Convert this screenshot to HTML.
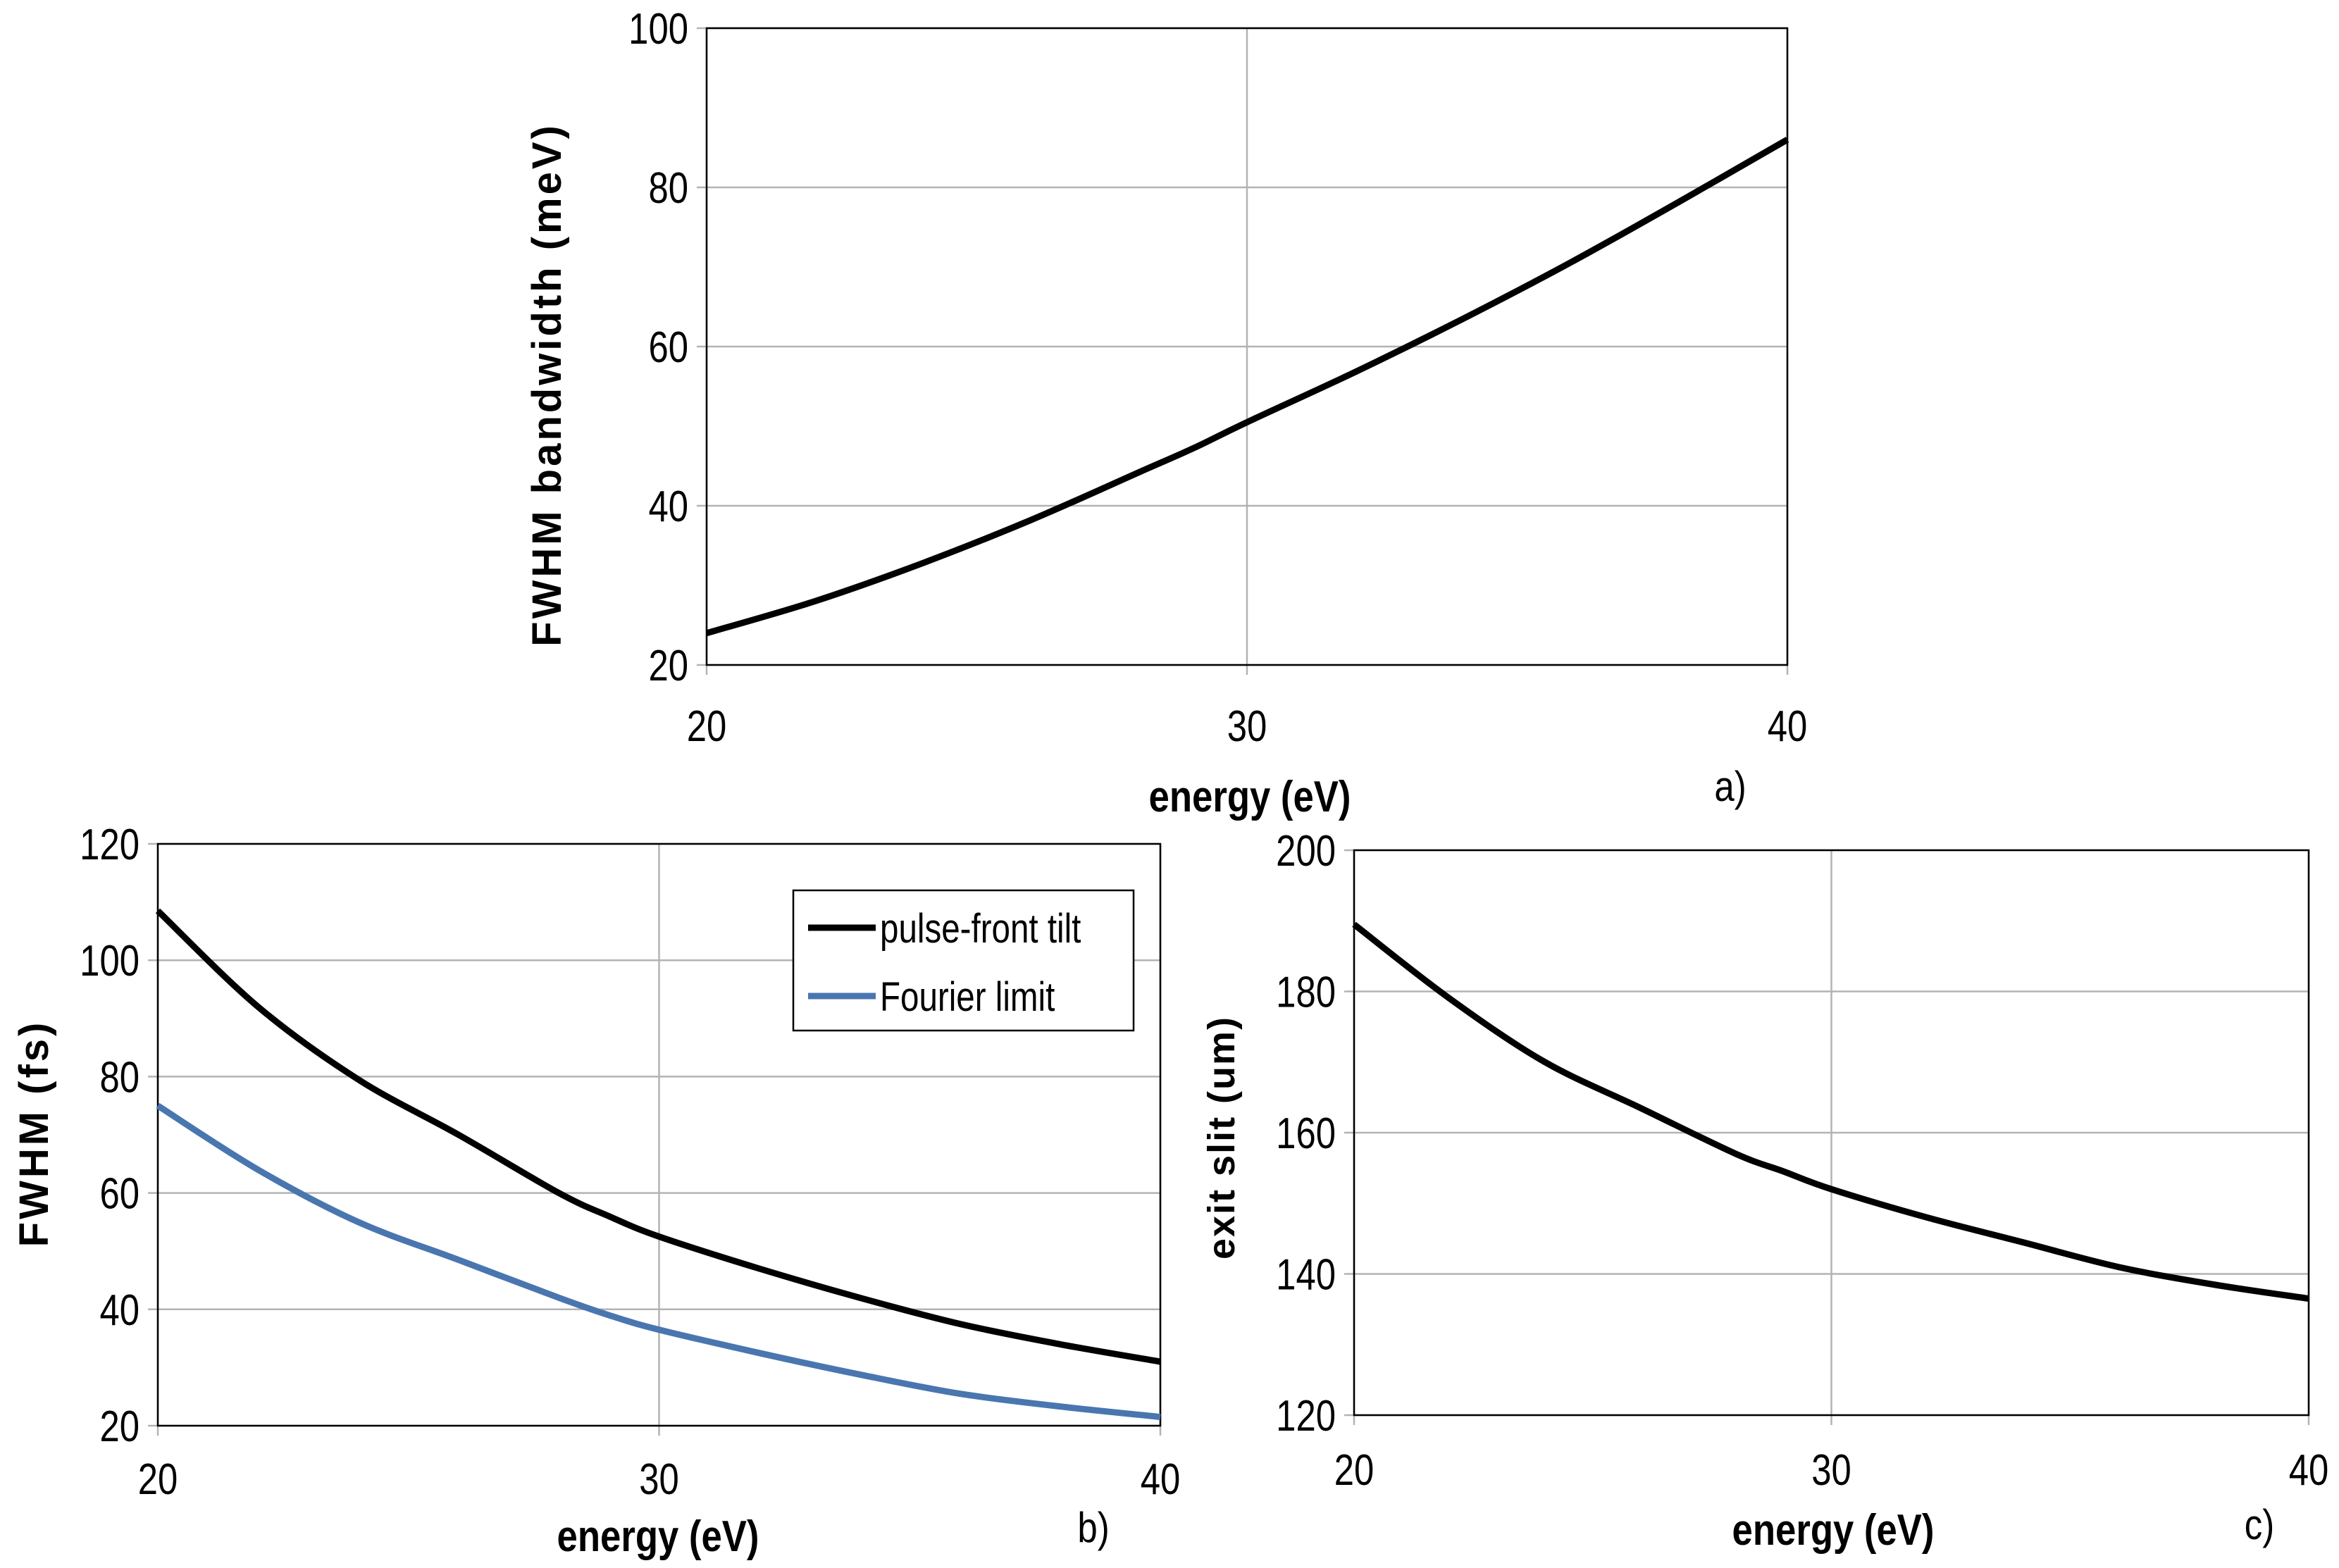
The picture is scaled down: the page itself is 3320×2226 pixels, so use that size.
<!DOCTYPE html>
<html><head><meta charset="utf-8"><style>
html,body{margin:0;padding:0;background:#fff;}
svg{display:block;font-family:"Liberation Sans",sans-serif;}
</style></head><body>
<svg id="fig" width="3320" height="2226" viewBox="0 0 3320 2226" xmlns="http://www.w3.org/2000/svg"></svg>
<script>
const energies = [20,22,24,26,28,29,30,32,34,36,38,40];
const bandwidthA = [24,28,32.8,38.2,44.2,47.2,50.5,56.8,63.5,70.6,78.2,86];
const pftB = [108.5,92,79.5,70,60,56,52.5,47,42,37.5,34,31];
const fourierB = [75,64,55,48.5,42,39,36.5,32.5,28.8,25.5,23.3,21.5];
const slitC = [189.5,179,170,163.5,157,154.5,152,148,144.5,141,138.5,136.5];
const xTicks = [20,30,40];
const yTicksA = [20,40,60,80,100];
const yTicksB = [20,40,60,80,100,120];
const yTicksC = [120,140,160,180,200];

const NS="http://www.w3.org/2000/svg";
const svg=document.getElementById('fig');
function mk(tag,attrs,parent){const e=document.createElementNS(NS,tag);for(const k in attrs)e.setAttribute(k,attrs[k]);(parent||svg).appendChild(e);return e;}
function ctext(parent,x,y,str,fs,anchor,weight,sxs,rot){
  const t=mk('text',{x:0,y:0,'text-anchor':anchor,'font-size':fs,'font-weight':weight||'normal',fill:'#000',
    transform:`translate(${x},${y})`+(rot?' rotate(-90)':'')+` scale(${sxs},1)`},parent);
  t.textContent=str;return t;}
function smooth(pts){
  let d='M'+pts[0][0].toFixed(1)+','+pts[0][1].toFixed(1);
  for(let i=0;i<pts.length-1;i++){
    const p0=pts[i-1]||pts[i],p1=pts[i],p2=pts[i+1],p3=pts[i+2]||p2;
    const c1=[p1[0]+(p2[0]-p0[0])/6,p1[1]+(p2[1]-p0[1])/6];
    const c2=[p2[0]-(p3[0]-p1[0])/6,p2[1]-(p3[1]-p1[1])/6];
    d+=` C${c1[0].toFixed(1)},${c1[1].toFixed(1)} ${c2[0].toFixed(1)},${c2[1].toFixed(1)} ${p2[0].toFixed(1)},${p2[1].toFixed(1)}`;
  }return d;}

function chart(o){
  const g=mk('g',{});
  
  
  const sx=v=>o.l+(v-20)/(40-20)*(o.r-o.l);
  const sy=v=>o.b-(v-o.ymin)/(o.ymax-o.ymin)*(o.b-o.t);
  o.yt.forEach(v=>{const ln=mk('line',{x1:o.l-14,x2:o.r,y1:sy(v),y2:sy(v),stroke:'#b3b3b3','stroke-width':2.5},g);
    
    const t=ctext(g,o.l-26,sy(v)+22,String(v),62,'end','normal',0.82,false);
    });
  xTicks.forEach(v=>{const ln=mk('line',{x1:sx(v),x2:sx(v),y1:o.t,y2:o.b+14,stroke:'#b3b3b3','stroke-width':2.5},g);
    
    const t=ctext(g,sx(v),o.xly,String(v),62,'middle','normal',0.82,false);
    });
  const fr=mk('rect',{x:o.l,y:o.t,width:o.r-o.l,height:o.b-o.t,fill:'none',stroke:'#000','stroke-width':2.5},g);
  
  o.series.forEach(s=>{const pts=energies.map((e,i)=>[sx(e),sy(s.v[i])]);
    const p=mk('path',{d:smooth(pts),fill:'none',stroke:s.c,'stroke-width':9,'stroke-linejoin':'round'},g);
    });
  const xt=ctext(g,o.xtx,o.xty,'energy (eV)',62,'middle','bold',0.85,false);
  
  const yt=mk('text',{x:0,y:0,'text-anchor':'middle','font-size':o.ytfs,'font-weight':'bold','letter-spacing':o.ls,fill:'#000',transform:`translate(${o.ytx},${o.yty}) rotate(-90)`},g);yt.textContent=o.ytitle;
  
  const pl=ctext(g,o.plx,o.ply,o.panel,60,'middle','normal',0.85,false);
  
}

chart({name:'chart-a',l:1003,r:2537,t:40,b:944,ymin:20,ymax:100,yt:yTicksA,xly:1052,
  series:[{name:'bandwidth-line',v:bandwidthA,c:'#000'}],xtx:1774,xty:1152,ytx:796,yty:546,ytfs:58,ls:4,ytitle:'FWHM  bandwidth  (meV)',panel:'a)',plx:2456,ply:1137});
chart({name:'chart-b',l:224,r:1647,t:1198,b:2024,ymin:20,ymax:120,yt:yTicksB,xly:2121,
  series:[{name:'pulse-front-tilt-line',v:pftB,c:'#000'},{name:'fourier-limit-line',v:fourierB,c:'#4a76b0'}],xtx:934,xty:2202,ytx:68,yty:1609,ytfs:58,ls:4,ytitle:'FWHM  (fs)',panel:'b)',plx:1552,ply:2189});
chart({name:'chart-c',l:1922,r:3277,t:1207,b:2009,ymin:120,ymax:200,yt:yTicksC,xly:2108,
  series:[{name:'exit-slit-line',v:slitC,c:'#000'}],xtx:2602,xty:2193,ytx:1752,yty:1615,ytfs:54,ls:2,ytitle:'exit slit (um)',panel:'c)',plx:3207,ply:2185});

const lg=mk('g',{});


mk('rect',{x:1126,y:1264,width:483,height:199,fill:'#fff',stroke:'#000','stroke-width':2.5},lg);
[['pulse-front tilt','#000',1317],['Fourier limit','#4a76b0',1414]].forEach(([t,c,y])=>{
  const e=mk('g',{},lg);
  
  
  mk('line',{x1:1147,x2:1243,y1:y,y2:y,stroke:c,'stroke-width':9},e);
  ctext(e,1249,y+21,t,58,'start','normal',0.82,false);
});
</script>
</body></html>
